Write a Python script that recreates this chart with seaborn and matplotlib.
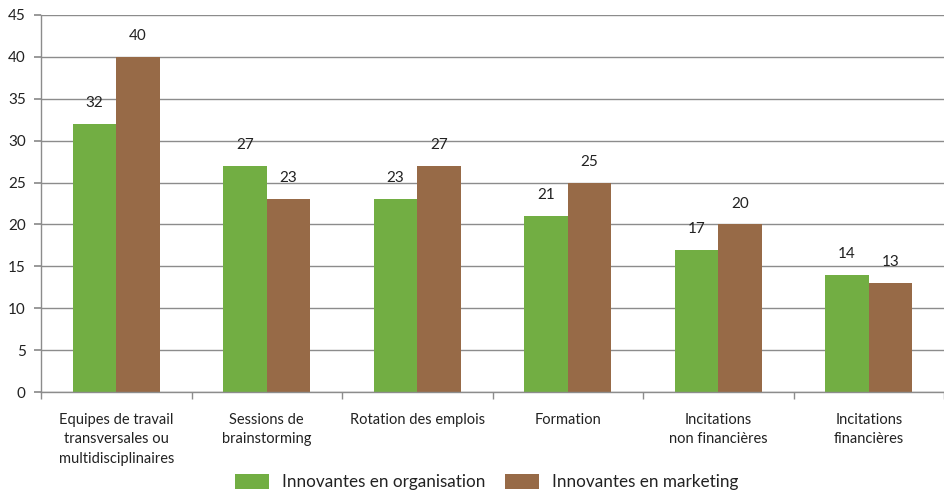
import pandas as pd
import numpy as np
import matplotlib
matplotlib.use("Agg")
import matplotlib.pyplot as plt
import seaborn as sns

categories = ["Equipes de travail\ntransversales ou\nmultidisciplinaires",
              "Sessions de\nbrainstorming",
              "Rotation des emplois",
              "Formation",
              "Incitations\nnon financières",
              "Incitations\nfinancières"]
organisation = [32, 27, 23, 21, 17, 14]
marketing = [40, 23, 27, 25, 20, 13]
series = ["Innovantes en organisation", "Innovantes en marketing"]

df = pd.DataFrame({
    "cat": categories * 2,
    "val": organisation + marketing,
    "serie": [series[0]] * 6 + [series[1]] * 6,
})

sns.set_theme(style="white")
plt.rcParams["font.family"] = ["Lato", "DejaVu Sans"]

fig = plt.figure(figsize=(9.45, 4.91), dpi=100)
ax = fig.add_axes([41 / 945, 1 - 392 / 491, 1 - 41 / 945 - 0.001, (392 - 15) / 491])

palette = ["#72ae43", "#976a47"]
sns.barplot(data=df, x="cat", y="val", hue="serie", order=categories,
            hue_order=series, palette=palette, width=0.58, saturation=1,
            linewidth=0, ax=ax, legend=True)

for cont in ax.containers:
    ax.bar_label(cont, fmt="%d", padding=10, fontsize=11, color="#222222")

ax.set_ylim(0, 45)
ax.set_yticks(np.arange(0, 46, 5))
ax.set_xlim(-0.5, 5.5)
ax.yaxis.grid(True, color="#8c8c8c", linewidth=1)
ax.set_axisbelow(True)
ax.set_xlabel("")
ax.set_ylabel("")

for s in ["top", "right"]:
    ax.spines[s].set_visible(False)
for s in ["left", "bottom"]:
    ax.spines[s].set_color("#8c8c8c")
    ax.spines[s].set_linewidth(1)

ax.tick_params(axis="y", left=True, length=5, color="#8c8c8c", labelsize=11, pad=6,
               labelcolor="#222222")
ax.tick_params(axis="x", bottom=False, labelsize=10.5, pad=9, labelcolor="#222222")
for lab in ax.get_xticklabels():
    lab.set_linespacing(1.5)
ax.set_xticks(np.arange(-0.5, 6, 1), minor=True)
ax.tick_params(axis="x", which="minor", bottom=True, length=5, color="#8c8c8c")

handles, labels = ax.get_legend_handles_labels()
ax.legend_.remove()
fig.legend(handles, labels, loc="lower center", bbox_to_anchor=(0.515, -0.03), ncol=2,
           frameon=False, fontsize=12.3, handlelength=2.0, handleheight=1.0,
           columnspacing=1.1, handletextpad=0.8, labelcolor="#222222")

fig.savefig("out.png", dpi=100)
